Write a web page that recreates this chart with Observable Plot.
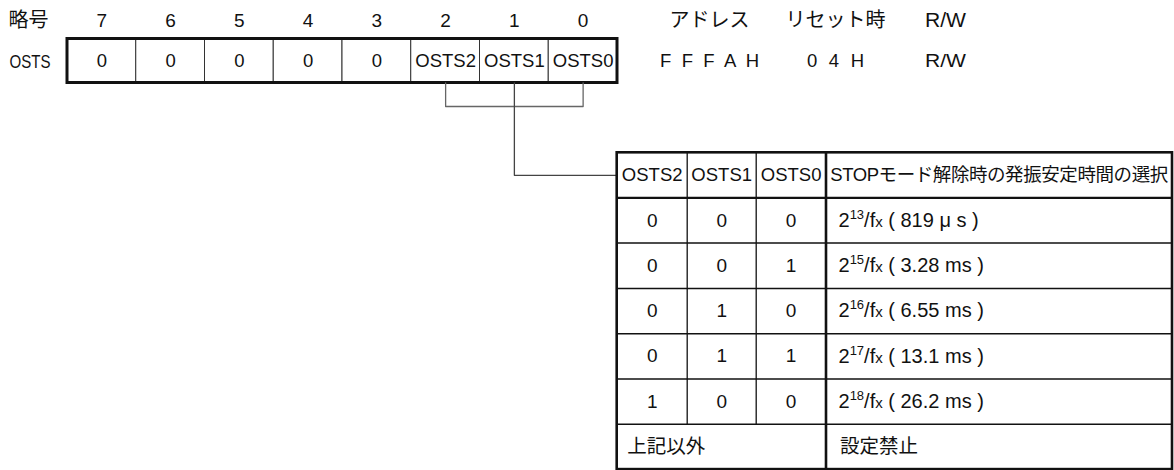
<!DOCTYPE html>
<html><head><meta charset="utf-8">
<script src="https://cdn.jsdelivr.net/npm/d3@7"></script>
<script src="https://cdn.jsdelivr.net/npm/@observablehq/plot@0.6"></script>
<style>body{margin:0;background:#fff}</style>
</head><body><div id="chart"></div>
<script>
// ---- data ----
const symbolLabel = "略号";
const registerName = "OSTS";
const bitNumbers = [7, 6, 5, 4, 3, 2, 1, 0];
const bitNames = ["0", "0", "0", "0", "0", "OSTS2", "OSTS1", "OSTS0"];
const infoHeaders = ["アドレス", "リセット時", "R/W"];
const infoValues = ["F F F A H", "0 4 H", "R/W"];
const tableHeaders = ["OSTS2", "OSTS1", "OSTS0", "STOPモード解除時の発振安定時間の選択"];
const osts2 = [0, 0, 0, 0, 1];
const osts1 = [0, 0, 1, 1, 0];
const osts0 = [0, 1, 0, 1, 0];
const exponents = [13, 15, 16, 17, 18];
const times = ["819 μ s", "3.28 ms", "6.55 ms", "13.1 ms", "26.2 ms"];
const otherLabel = "上記以外";
const otherValue = "設定禁止";

// ---- layout ----
const W = 1174, H = 470;
const LATIN = '"Liberation Sans", Arial, "Noto Sans CJK JP", sans-serif';
const CJK = '"Liberation Sans", "Noto Sans CJK JP", sans-serif';
const regX0 = 67, regCellW = 68.75, regTop = 38.5, regBottom = 82.5, bitLabelY = 20, regTextY = 61;
const regCells = bitNumbers.map((b, i) => ({
  bit: String(b), name: bitNames[i],
  x1: regX0 + i * regCellW, x2: regX0 + (i + 1) * regCellW, cx: regX0 + (i + 0.5) * regCellW
}));
const regOuter = [{x1: regX0, x2: regX0 + bitNumbers.length * regCellW, y1: regTop, y2: regBottom}];
const infoX = [709, 835, 945];
const infoRows = infoHeaders.map((h, i) => ({h, v: infoValues[i], x: infoX[i]}));
const cxOf = name => regCells.find(c => c.name === name).cx;

const tblCols = [616.7, 686.7, 755.7, 825.5, 1172];
const tblTop = 152.3, tblHeadBottom = 197.3, tblRowH = 45.3;
const nRows = exponents.length + 1;
const tblBottom = tblHeadBottom + nRows * tblRowH;
const rowTop = i => tblHeadBottom + i * tblRowH;
const rowMid = i => rowTop(i) + tblRowH / 2;
const colMid = j => (tblCols[j] + tblCols[j + 1]) / 2;
const headMid = (tblTop + tblHeadBottom) / 2;

const bracketY = 106;
const bracket = [
  {x: cxOf("OSTS2"), y: regBottom}, {x: cxOf("OSTS2"), y: bracketY},
  {x: cxOf("OSTS0"), y: bracketY}, {x: cxOf("OSTS0"), y: regBottom}
];
const connector = [
  {x: cxOf("OSTS1"), y: regBottom}, {x: cxOf("OSTS1"), y: headMid}, {x: tblCols[0], y: headMid}
];

const rows = exponents.map((e, i) => ({
  a: osts2[i], b: osts1[i], c: osts0[i], desc: `2^${e}/fx ( ${times[i]} )`, y: rowMid(i)
}));
const headerCells = tableHeaders.map((t, j) => ({t, x: colMid(j), y: headMid}));
const digitCells = rows.flatMap(r => [r.a, r.b, r.c].map((v, j) => ({t: String(v), x: colMid(j), y: r.y})));
const hLines = d3.range(1, nRows).map(i => ({x1: tblCols[0], x2: tblCols[4], y: rowTop(i)}));
const vThin = [1, 2].map(j => ({x: tblCols[j], y1: tblTop, y2: rowTop(nRows - 1)}));
const vThick = [{x: tblCols[3], y1: tblTop, y2: tblBottom}];
const headLine = [{x1: tblCols[0], x2: tblCols[4], y: tblHeadBottom}];
const tblOuter = [{x1: tblCols[0], x2: tblCols[4], y1: tblTop, y2: tblBottom}];
const lastRow = [
  {t: otherLabel, x: tblCols[0] + 10, y: rowMid(nRows - 1)},
  {t: otherValue, x: tblCols[3] + 14, y: rowMid(nRows - 1)}
];

const svg = Plot.plot({
  width: W, height: H, margin: 0,
  style: {fontFamily: LATIN, background: "white", color: "#111"},
  x: {domain: [0, W], range: [0, W], axis: null},
  y: {domain: [0, H], range: [0, H], axis: null},
  marks: [
    // register
    Plot.rect(regCells, {x1: "x1", x2: "x2", y1: () => regTop, y2: () => regBottom, fill: "white", stroke: "#333", strokeWidth: 1}),
    Plot.rect(regOuter, {x1: "x1", x2: "x2", y1: "y1", y2: "y2", fill: "none", stroke: "#111", strokeWidth: 3}),
    Plot.text(regCells, {x: "cx", y: () => bitLabelY, text: "bit", fontSize: 19, fill: "#111"}),
    Plot.text(regCells, {x: "cx", y: () => regTextY, text: "name", fontSize: 18.5, fill: "#111"}),
    Plot.text([symbolLabel], {x: () => 8, y: () => bitLabelY, text: d => d, textAnchor: "start", fontSize: 20, fontFamily: CJK, fill: "#111"}),
    Plot.text([registerName], {x: () => 9, y: () => regTextY, text: d => d, textAnchor: "start", fontSize: 19, fill: "#111"}),
    Plot.text(infoRows, {x: "x", y: () => bitLabelY, text: "h", fontSize: 20, fontFamily: CJK, fill: "#111"}),
    Plot.text(infoRows, {x: "x", y: () => regTextY, text: "v", fontSize: 18.5, fill: "#111"}),
    // bracket & connector
    Plot.line(bracket, {x: "x", y: "y", stroke: "#666", strokeWidth: 1.3}),
    Plot.line(connector, {x: "x", y: "y", stroke: "#444", strokeWidth: 1.3}),
    // table
    Plot.rect(tblOuter, {x1: "x1", x2: "x2", y1: "y1", y2: "y2", fill: "white"}),
    Plot.link(hLines, {x1: "x1", x2: "x2", y1: "y", y2: "y", stroke: "#111", strokeWidth: 1.5}),
    Plot.link(vThin, {x1: "x", x2: "x", y1: "y1", y2: "y2", stroke: "#111", strokeWidth: 1.3}),
    Plot.link(vThick, {x1: "x", x2: "x", y1: "y1", y2: "y2", stroke: "#111", strokeWidth: 2.6}),
    Plot.link(headLine, {x1: "x1", x2: "x2", y1: "y", y2: "y", stroke: "#111", strokeWidth: 2.2}),
    Plot.rect(tblOuter, {x1: "x1", x2: "x2", y1: "y1", y2: "y2", fill: "none", stroke: "#111", strokeWidth: 2.6}),
    Plot.text(headerCells, {x: "x", y: "y", text: "t", fontSize: 18.5, fontFamily: CJK, fill: "#111"}),
    Plot.text(digitCells, {x: "x", y: "y", text: "t", fontSize: 19, fill: "#111"}),
    Plot.text(rows, {x: () => tblCols[3] + 12.5, y: "y", text: "desc", textAnchor: "start", fontSize: 20, fill: "#111"}),
    Plot.text(lastRow, {x: "x", y: "y", text: "t", textAnchor: "start", fontSize: 19.5, fontFamily: CJK, fill: "#111"})
  ]
});

// typographic refinements: superscripts, spacing
d3.select(svg).selectAll("text").each(function () {
  const s = d3.select(this);
  const t = this.textContent;
  const m = /^2\^(\d+)\/fx (.*)$/.exec(t);
  if (m) {
    s.text(null);
    s.append("tspan").text("2");
    s.append("tspan").attr("font-size", 13).attr("dy", -8).text(m[1]);
    s.append("tspan").attr("dy", 8).text("/f");
    s.append("tspan").attr("font-size", 15).text("x");
    s.append("tspan").text(" " + m[2]);
    return;
  }
  if (t === tableHeaders[3]) s.attr("textLength", 338).attr("lengthAdjust", "spacing");
  if (t === registerName) s.attr("textLength", 41).attr("lengthAdjust", "spacingAndGlyphs");
  if (t === infoValues[0]) s.attr("textLength", 99).attr("lengthAdjust", "spacing");
  if (t === infoValues[1]) s.attr("textLength", 57).attr("lengthAdjust", "spacing");
  if (t === "R/W") s.attr("textLength", 41).attr("lengthAdjust", "spacingAndGlyphs");
});

document.getElementById("chart").appendChild(svg);
</script>
</body></html>
